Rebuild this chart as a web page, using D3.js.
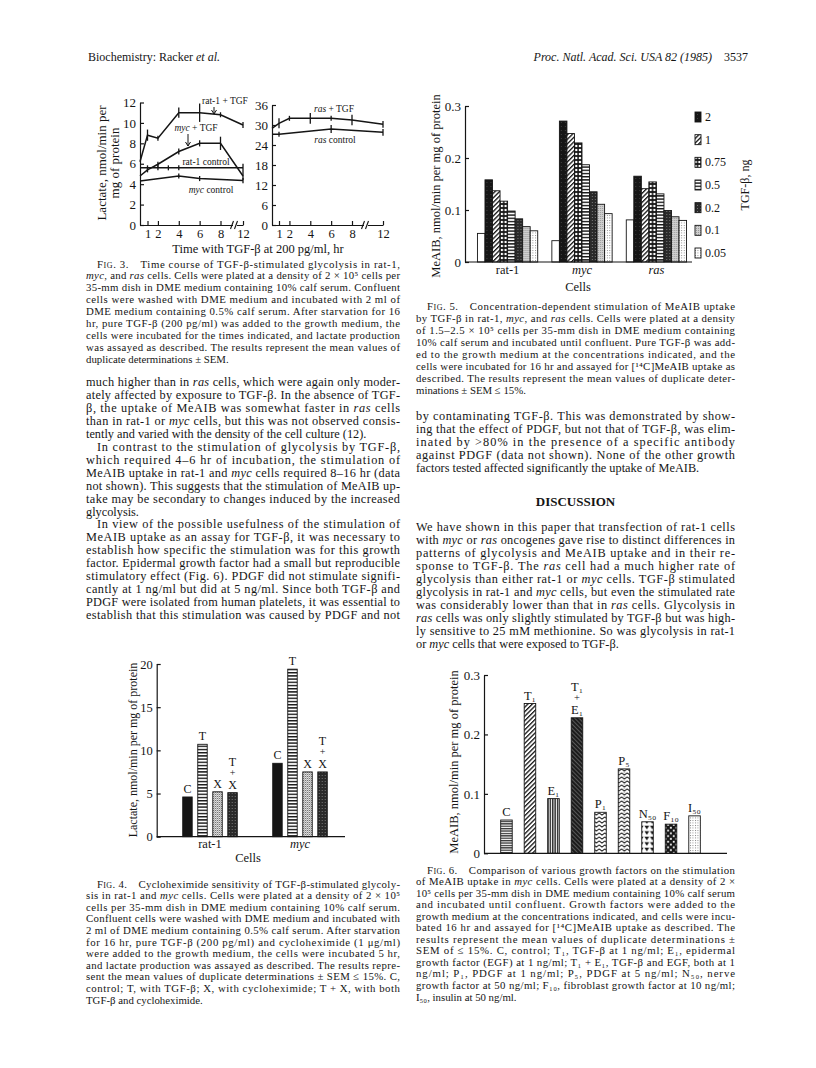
<!DOCTYPE html>
<html>
<head>
<meta charset="utf-8">
<script src="https://cdn.jsdelivr.net/npm/d3@7"></script>
<style>
  body { margin: 0; background: #fff; }
  svg { display: block; }
  text { font-family: "Liberation Serif", "Times New Roman", serif; fill: #151515; }
</style>
</head>
<body>
<div id="page"></div>
<script>
// ---- Fig. 3 data (lactate, nmol/min per mg protein, vs hours with TGF-beta) ----
var rat1TgfT = [0, 1, 2, 4, 6, 8, 12];
var rat1TgfV = [6.2, 8.8, 8.5, 11.0, 11.0, 10.8, 9.8];
var rat1TgfE = [0, 0.55, 0.15, 0.5, 0.9, 0.15, 0.3];
var mycTgfT = [0, 1, 2, 4, 6, 8, 12];
var mycTgfV = [4.8, 5.4, 5.95, 7.2, 8.0, 8.0, 4.8];
var mycTgfE = [0, 0.2, 0.2, 0.3, 0.3, 0.65, 0.4];
var rat1CtlT = [0, 1, 2, 3, 4, 12];
var rat1CtlV = [5.6, 5.6, 5.6, 5.6, 5.6, 5.6];
var rat1CtlE = [0, 0.15, 0.15, 0.15, 0.15, 0.4];
var mycCtlT = [0, 4, 6, 12];
var mycCtlV = [4.3, 4.8, 4.55, 4.35];
var mycCtlE = [0, 0.15, 0.25, 0.25];
var rasTgfT = [0, 1, 2, 4, 6, 8, 12];
var rasTgfV = [29.0, 30.5, 32.0, 32.0, 32.0, 31.5, 30.2];
var rasTgfE = [0, 1.5, 0.6, 1.6, 0.4, 1.6, 1.0];
var rasCtlT = [0, 1, 6, 12];
var rasCtlV = [27.2, 27.2, 28.8, 27.8];
var rasCtlE = [0, 0.4, 1.2, 1.0];
var hourTicks = [1, 2, 4, 6, 8, 12];
var lactTicksA = [0, 2, 4, 6, 8, 10, 12];
var lactTicksB = [0, 6, 12, 18, 24, 30, 36];

// ---- Fig. 4 data ----
var cells4 = ['rat-1', 'myc'];
var treat4 = ['C', 'T', 'X', 'T+X'];
var treatLabels = [['C'], ['T'], ['X'], ['T', '+', 'X']];
var rat1Lactate = [4.6, 10.7, 5.2, 5.1];
var mycLactate = [8.5, 19.4, 7.5, 7.5];
var lactTicks4 = [0, 5, 10, 15, 20];

// ---- Fig. 5 data (MeAIB uptake, nmol/min per mg protein) ----
var cells5 = ['rat-1', 'myc', 'ras'];
var doses5 = ['control', '2', '1', '0.75', '0.5', '0.2', '0.1', '0.05'];
var rat1Uptake = [0.055, 0.158, 0.137, 0.117, 0.098, 0.083, 0.068, 0.060];
var mycUptake = [0.041, 0.271, 0.247, 0.229, 0.187, 0.135, 0.111, 0.093];
var rasUptake = [0.081, 0.165, 0.141, 0.154, 0.131, 0.099, 0.087, 0.080];
var uptakeTicks = [0, 0.1, 0.2, 0.3];

// ---- Fig. 6 data ----
var factors6 = ['C', 'T1', 'E1', 'T1+E1', 'P1', 'P5', 'N50', 'F10', 'I50'];
var factorLabels = [['C'], ['T_{1}'], ['E_{1}'], ['T_{1}', '+', 'E_{1}'], ['P_{1}'], ['P_{5}'], ['N_{50}'], ['F_{10}'], ['I_{50}']];
var uptake6 = [0.056, 0.252, 0.092, 0.228, 0.069, 0.142, 0.053, 0.049, 0.063];

// ---- page text ----
var cap3 = [
  '>~Fig.~ 3.\u2003Time course of TGF-β-stimulated glycolysis in rat-1,',
  '*myc*, and *ras* cells. Cells were plated at a density of 2 × 10^{5} cells per',
  '35-mm dish in DME medium containing 10% calf serum. Confluent',
  'cells were washed with DME medium and incubated with 2 ml of',
  'DME medium containing 0.5% calf serum. After starvation for 16',
  'hr, pure TGF-β (200 pg/ml) was added to the growth medium, the',
  'cells were incubated for the times indicated, and lactate production',
  'was assayed as described. The results represent the mean values of',
  'duplicate determinations ± SEM.$'
];
var bodyL = [
  'much higher than in *ras* cells, which were again only moder-',
  'ately affected by exposure to TGF-β. In the absence of TGF-',
  'β, the uptake of MeAIB was somewhat faster in *ras* cells',
  'than in rat-1 or *myc* cells, but this was not observed consis-',
  'tently and varied with the density of the cell culture (12).$',
  '>In contrast to the stimulation of glycolysis by TGF-β,',
  'which required 4–6 hr of incubation, the stimulation of',
  'MeAIB uptake in rat-1 and *myc* cells required 8–16 hr (data',
  'not shown). This suggests that the stimulation of MeAIB up-',
  'take may be secondary to changes induced by the increased',
  'glycolysis.$',
  '>In view of the possible usefulness of the stimulation of',
  'MeAIB uptake as an assay for TGF-β, it was necessary to',
  'establish how specific the stimulation was for this growth',
  'factor. Epidermal growth factor had a small but reproducible',
  'stimulatory effect (Fig. 6). PDGF did not stimulate signifi-',
  'cantly at 1 ng/ml but did at 5 ng/ml. Since both TGF-β and',
  'PDGF were isolated from human platelets, it was essential to',
  'establish that this stimulation was caused by PDGF and not'
];
var cap4 = [
  '>~Fig.~ 4.\u2003Cycloheximide sensitivity of TGF-β-stimulated glycoly-',
  'sis in rat-1 and *myc* cells. Cells were plated at a density of 2 × 10^{5}',
  'cells per 35-mm dish in DME medium containing 10% calf serum.',
  'Confluent cells were washed with DME medium and incubated with',
  '2 ml of DME medium containing 0.5% calf serum. After starvation',
  'for 16 hr, pure TGF-β (200 pg/ml) and cycloheximide (1 μg/ml)',
  'were added to the growth medium, the cells were incubated 5 hr,',
  'and lactate production was assayed as described. The results repre-',
  'sent the mean values of duplicate determinations ± SEM ≤ 15%. C,',
  'control; T, with TGF-β; X, with cycloheximide; T + X, with both',
  'TGF-β and cycloheximide.$'
];
var cap5 = [
  '>~Fig.~ 5.\u2003Concentration-dependent stimulation of MeAIB uptake',
  'by TGF-β in rat-1, *myc*, and *ras* cells. Cells were plated at a density',
  'of 1.5–2.5 × 10^{5} cells per 35-mm dish in DME medium containing',
  '10% calf serum and incubated until confluent. Pure TGF-β was add-',
  'ed to the growth medium at the concentrations indicated, and the',
  'cells were incubated for 16 hr and assayed for [^{14}C]MeAIB uptake as',
  'described. The results represent the mean values of duplicate deter-',
  'minations ± SEM ≤ 15%.$'
];
var bodyR = [
  'by contaminating TGF-β. This was demonstrated by show-',
  'ing that the effect of PDGF, but not that of TGF-β, was elim-',
  'inated by >80% in the presence of a specific antibody',
  'against PDGF (data not shown). None of the other growth',
  'factors tested affected significantly the uptake of MeAIB.$'
];
var discussion = [
  'We have shown in this paper that transfection of rat-1 cells',
  'with *myc* or *ras* oncogenes gave rise to distinct differences in',
  'patterns of glycolysis and MeAIB uptake and in their re-',
  'sponse to TGF-β. The *ras* cell had a much higher rate of',
  'glycolysis than either rat-1 or *myc* cells. TGF-β stimulated',
  'glycolysis in rat-1 and *myc* cells, but even the stimulated rate',
  'was considerably lower than that in *ras* cells. Glycolysis in',
  '*ras* cells was only slightly stimulated by TGF-β but was high-',
  'ly sensitive to 25 mM methionine. So was glycolysis in rat-1',
  'or *myc* cells that were exposed to TGF-β.$'
];
var cap6 = [
  '>~Fig.~ 6.\u2003Comparison of various growth factors on the stimulation',
  'of MeAIB uptake in *myc* cells. Cells were plated at a density of 2 ×',
  '10^{5} cells per 35-mm dish in DME medium containing 10% calf serum',
  'and incubated until confluent. Growth factors were added to the',
  'growth medium at the concentrations indicated, and cells were incu-',
  'bated 16 hr and assayed for [^{14}C]MeAIB uptake as described. The',
  'results represent the mean values of duplicate determinations ±',
  'SEM of ≤ 15%. C, control; T_{1}, TGF-β at 1 ng/ml; E_{1}, epidermal',
  'growth factor (EGF) at 1 ng/ml; T_{1} + E_{1}, TGF-β and EGF, both at 1',
  'ng/ml; P_{1}, PDGF at 1 ng/ml; P_{5}, PDGF at 5 ng/ml; N_{50}, nerve',
  'growth factor at 50 ng/ml; F_{10}, fibroblast growth factor at 10 ng/ml;',
  'I_{50}, insulin at 50 ng/ml.$'
];

var ink = '#151515';
var colL = [86, 400], colR = [416, 735];
var supDigits = '⁰¹²³⁴⁵⁶⁷⁸⁹', subDigits = '₀₁₂₃₄₅₆₇₈₉';

var svg = d3.select('#page').append('svg')
  .attr('width', 816)
  .attr('height', 1068);

// append runs with *italic*, ^{sup}, _{sub}, ~smallcaps~ to a text element
function runs(el, s) {
  var re = /\*([^*]+)\*|\^\{([^}]*)\}|_\{([^}]*)\}|~([^~]+)~|([^*^_~]+)/g, m;
  while ((m = re.exec(s))) {
    var sp = el.append('tspan');
    if (m[2] || m[3]) {
      var map = m[2] ? supDigits : subDigits;
      sp.text((m[2] || m[3]).replace(/\d/g, function(c) { return map[+c]; }));
    }
    else if (m[1]) sp.text(m[1]).style('font-style', 'italic');
    else if (m[4]) sp.text(m[4]).style('font-variant', 'small-caps');
    else sp.text(m[5]);
  }
}

function rich(parent, s, x, y, size, anchor) {
  var t = parent.append('text')
    .attr('x', x)
    .attr('y', y)
    .style('font-size', size + 'px');
  if (anchor) t.attr('text-anchor', anchor);
  runs(t, s);
  return t;
}

// stacked label (bottom line sits at yBottom)
function stack(parts, cx, yBottom, size, gap) {
  parts.forEach(function(p, k) {
    var isPlus = p === '+';
    rich(svg, p, cx, yBottom - (parts.length - 1 - k) * gap - (isPlus ? 1 : 0), isPlus ? size - 2 : size, 'middle');
  });
}

// justified paragraph block; '>' = indented line, '$' = ragged last line
function block(lines, col, y0, lh, size) {
  lines.forEach(function(s, i) {
    var indent = 0, justify = true;
    if (s[0] === '>') { indent = 11; s = s.slice(1); }
    if (s.slice(-1) === '$') { justify = false; s = s.slice(0, -1); }
    var t = rich(svg, s, col[0] + indent, y0 + i * lh, size);
    if (justify) t.attr('textLength', col[1] - col[0] - indent).attr('lengthAdjust', 'spacing');
  });
}

// ---- header ----
rich(svg, 'Biochemistry: Racker *et al.*', 88, 61, 12);
rich(svg, '*Proc. Natl. Acad. Sci. USA 82 (1985)*', 712, 61, 12, 'end');
rich(svg, '3537', 748, 61, 12, 'end');

// ---- text blocks ----
block(cap3, colL, 267.5, 11.9, 10.8);
block(bodyL, colL, 386, 12.95, 12.3);
block(cap4, colL, 887.5, 11.6, 10.8);
block(cap5, colR, 309.5, 12, 10.8);
block(bodyR, colR, 420, 13, 12.3);
svg.append('text')
  .attr('x', (colR[0] + colR[1]) / 2)
  .attr('y', 506)
  .attr('text-anchor', 'middle')
  .style('font-size', '13px')
  .style('font-weight', 'bold')
  .text('DISCUSSION');
block(discussion, colR, 531, 13, 12.3);
block(cap6, colR, 873.5, 11.55, 10.8);

// ---- fill patterns ----
var defs = svg.append('defs');
function pat(id, w, h, bg, draw, rot) {
  var p = defs.append('pattern')
    .attr('id', id)
    .attr('patternUnits', 'userSpaceOnUse')
    .attr('width', w)
    .attr('height', h);
  if (rot) p.attr('patternTransform', 'rotate(' + rot + ')');
  p.append('rect').attr('width', w).attr('height', h).attr('fill', bg);
  draw(p);
}
pat('pBlack', 4, 4, '#161616', function(p) {
  p.append('rect').attr('x', 1).attr('y', 2).attr('width', 0.8).attr('height', 0.8).attr('fill', '#555');
});
pat('pHatch', 3.2, 3.2, '#fff', function(p) {
  p.append('rect').attr('width', 1.3).attr('height', 3.2).attr('fill', ink);
}, 45);
pat('pBrick', 3.75, 4, ink, function(p) {
  p.append('rect').attr('x', 0.8).attr('y', 0.9).attr('width', 2.2).attr('height', 2.2).attr('fill', '#fff');
});
pat('pStripe', 4, 3.2, '#fff', function(p) {
  p.append('rect').attr('y', 0).attr('width', 4).attr('height', 1.4).attr('fill', ink);
});
pat('pStripe2', 4, 2.4, '#fff', function(p) {
  p.append('rect').attr('y', 0).attr('width', 4).attr('height', 1.3).attr('fill', '#333');
});
pat('pVstripe', 2.4, 4, '#fff', function(p) {
  p.append('rect').attr('width', 1.5).attr('height', 4).attr('fill', '#333');
});
pat('pDark', 3, 3, '#2a2a2a', function(p) {
  p.append('rect').attr('x', 1).attr('y', 1).attr('width', 1).attr('height', 1).attr('fill', '#777');
});
pat('pDarkHatch', 3, 3, '#1c1c1c', function(p) {
  p.append('rect').attr('width', 0.8).attr('height', 3).attr('fill', '#666');
}, -45);
pat('pGray', 2, 2, '#cfcfcf', function(p) {
  p.append('rect').attr('width', 1).attr('height', 1).attr('fill', '#999');
});
pat('pDots', 2.5, 2.5, '#fff', function(p) {
  p.append('rect').attr('width', 0.9).attr('height', 0.9).attr('fill', '#777');
});
pat('pStipple', 2, 2, '#fff', function(p) {
  p.append('rect').attr('width', 1).attr('height', 1).attr('fill', '#444');
  p.append('rect').attr('x', 1).attr('y', 1).attr('width', 1).attr('height', 1).attr('fill', '#999');
});
pat('pChevron', 5.6, 4, '#fff', function(p) {
  p.append('path').attr('d', 'M0,0.8 L2.8,3.2 L5.6,0.8').attr('fill', 'none').attr('stroke', ink).attr('stroke-width', 1);
});
pat('pChevron2', 5.6, 4, '#fff', function(p) {
  p.append('path').attr('d', 'M0,0.8 L2.8,3.2 L5.6,0.8').attr('fill', 'none').attr('stroke', ink).attr('stroke-width', 1);
  p.append('rect').attr('x', 2.4).attr('y', 0.3).attr('width', 0.8).attr('height', 0.8).attr('fill', '#555');
});
pat('pTri', 5.6, 5.5, '#fff', function(p) {
  p.append('path').attr('d', 'M0.4,0.6 L5.2,0.6 L2.8,4.4 Z').attr('fill', ink);
});
pat('pSquares', 5.6, 5.6, ink, function(p) {
  p.append('rect').attr('x', 0.8).attr('y', 0.8).attr('width', 1.8).attr('height', 1.8).attr('fill', '#fff');
  p.append('rect').attr('x', 3.6).attr('y', 3.6).attr('width', 1.8).attr('height', 1.8).attr('fill', '#fff');
});

function styleAxis(g, size) {
  g.selectAll('path, line').attr('stroke', ink).attr('stroke-width', 1.2);
  g.selectAll('text').style('font-size', size + 'px').attr('fill', ink);
}

// ---- Fig. 3 ----
var x3a = d3.scaleLinear().domain([0, 1, 8, 12]).range([140, 147.5, 220.5, 243]);
var y3a = d3.scaleLinear().domain([0, 12]).range([225, 102.5]);
var x3b = d3.scaleLinear().domain([0, 1, 8, 12]).range([272, 279, 352, 383]);
var y3b = d3.scaleLinear().domain([0, 36]).range([225, 105]);

function panel3(x, y, yTicks, series, brk) {
  var g = svg.append('g');
  g.append('g')
    .attr('transform', 'translate(0,' + y.range()[0] + ')')
    .call(d3.axisBottom(x).tickValues(hourTicks).tickSize(-4).tickSizeOuter(0).tickPadding(4))
    .call(styleAxis, 12.5);
  g.append('g')
    .attr('transform', 'translate(' + x.range()[0] + ',0)')
    .call(d3.axisLeft(y).tickValues(yTicks).tickSize(-4).tickSizeOuter(0).tickPadding(4))
    .call(styleAxis, 13);
  // axis break
  var y0 = y.range()[0];
  g.append('rect').attr('x', brk - 2).attr('y', y0 - 2).attr('width', 4).attr('height', 4).attr('fill', '#fff');
  [-3, 1].forEach(function(dx) {
    g.append('line')
      .attr('x1', brk + dx - 1.5).attr('y1', y0 + 4)
      .attr('x2', brk + dx + 1.5).attr('y2', y0 - 4)
      .attr('stroke', ink).attr('stroke-width', 1.1);
  });
  series.forEach(function(s) {
    var pts = s[0].map(function(t, i) { return { t: t, v: s[1][i], e: s[2][i] }; });
    g.append('path')
      .datum(pts)
      .attr('d', d3.line().x(function(d) { return x(d.t); }).y(function(d) { return y(d.v); }))
      .attr('fill', 'none')
      .attr('stroke', ink)
      .attr('stroke-width', 1.5);
    g.selectAll(null)
      .data(pts.filter(function(d) { return d.t > 0; }))
      .enter().append('line')
      .attr('x1', function(d) { return x(d.t); })
      .attr('x2', function(d) { return x(d.t); })
      .attr('y1', function(d) { return Math.min(y(d.v + d.e), y(d.v) - 2.5); })
      .attr('y2', function(d) { return Math.max(y(d.v - d.e), y(d.v) + 2.5); })
      .attr('stroke', ink)
      .attr('stroke-width', 1.3);
  });
  return g;
}

panel3(x3a, y3a, lactTicksA, [
  [rat1TgfT, rat1TgfV, rat1TgfE],
  [mycTgfT, mycTgfV, mycTgfE],
  [rat1CtlT, rat1CtlV, rat1CtlE],
  [mycCtlT, mycCtlV, mycCtlE]
], 235);
panel3(x3b, y3b, lactTicksB, [
  [rasTgfT, rasTgfV, rasTgfE],
  [rasCtlT, rasCtlV, rasCtlE]
], 366);

// series labels
rich(svg, 'rat-1 + TGF', 225, 104, 9.5, 'middle');
rich(svg, '*myc* + TGF', 196, 131, 9.5, 'middle');
rich(svg, 'rat-1 control', 206, 165, 9.5, 'middle');
rich(svg, '*myc* control', 211, 193, 9.5, 'middle');
rich(svg, '*ras* + TGF', 334, 112, 9.5, 'middle');
rich(svg, '*ras* control', 335, 143, 9.5, 'middle');
function arrow(xa, ya, yb) {
  svg.append('line').attr('x1', xa).attr('x2', xa).attr('y1', ya).attr('y2', yb)
    .attr('stroke', ink).attr('stroke-width', 1);
  svg.append('path')
    .attr('d', 'M' + (xa - 2.5) + ',' + (yb - 4) + ' L' + xa + ',' + yb + ' L' + (xa + 2.5) + ',' + (yb - 4))
    .attr('fill', 'none').attr('stroke', ink).attr('stroke-width', 1);
}
arrow(214, 107, 114);
arrow(188, 134, 146);

svg.append('text')
  .attr('transform', 'translate(106,163) rotate(-90)')
  .attr('text-anchor', 'middle')
  .style('font-size', '13px')
  .text('Lactate, nmol/min per');
svg.append('text')
  .attr('transform', 'translate(119,163) rotate(-90)')
  .attr('text-anchor', 'middle')
  .style('font-size', '13px')
  .text('mg of protein');
svg.append('text')
  .attr('x', 258).attr('y', 252.5)
  .attr('text-anchor', 'middle')
  .style('font-size', '12.5px')
  .text('Time with TGF-β at 200 pg/ml, hr');

// ---- Fig. 5 ----
var fill5 = ['#fff', 'url(#pBlack)', 'url(#pHatch)', 'url(#pBrick)', 'url(#pStripe)', 'url(#pDark)', 'url(#pGray)', 'url(#pDots)'];
var y5 = d3.scaleLinear().domain([0, 0.3]).range([262, 106]);
var x5 = d3.scaleBand().domain(cells5).range([470, 694]).paddingInner(0.19).paddingOuter(0.1);
var x5in = d3.scaleBand().domain(doses5).range([0, x5.bandwidth()]);
var data5 = [rat1Uptake, mycUptake, rasUptake];

var g5 = svg.append('g');
cells5.forEach(function(c, ci) {
  g5.append('g')
    .attr('transform', 'translate(' + x5(c) + ',0)')
    .selectAll('rect')
    .data(data5[ci])
    .enter().append('rect')
    .attr('x', function(d, i) { return x5in(doses5[i]); })
    .attr('y', function(d) { return y5(d); })
    .attr('width', x5in.bandwidth())
    .attr('height', function(d) { return y5(0) - y5(d); })
    .attr('fill', function(d, i) { return fill5[i]; })
    .attr('stroke', ink)
    .attr('stroke-width', 0.9);
});
g5.append('line').attr('x1', 465).attr('x2', 692).attr('y1', 262).attr('y2', 262)
  .attr('stroke', ink).attr('stroke-width', 1.2);
g5.append('g')
  .attr('transform', 'translate(465,0)')
  .call(d3.axisLeft(y5).tickValues(uptakeTicks).tickFormat(d3.format('~g')).tickSize(-4).tickSizeOuter(0).tickPadding(4))
  .call(styleAxis, 13);
cells5.forEach(function(c, ci) {
  rich(svg, ci === 0 ? c : '*' + c + '*', x5(c) + x5.bandwidth() / 2, 274, 12.5, 'middle');
});
svg.append('text').attr('x', 578).attr('y', 291).attr('text-anchor', 'middle')
  .style('font-size', '12.5px').text('Cells');
svg.append('text')
  .attr('transform', 'translate(440,186) rotate(-90)')
  .attr('text-anchor', 'middle')
  .style('font-size', '12.5px')
  .text('MeAIB, nmol/min per mg of protein');
// legend
var legendY = d3.scalePoint().domain(doses5.slice(1)).range([117, 253]);
doses5.slice(1).forEach(function(d, i) {
  svg.append('rect')
    .attr('x', 695).attr('y', legendY(d) - 5)
    .attr('width', 6).attr('height', 10)
    .attr('fill', fill5[i + 1]).attr('stroke', ink).attr('stroke-width', 0.9);
  svg.append('text').attr('x', 705).attr('y', legendY(d) + 4)
    .style('font-size', '12px').text(d);
});
svg.append('text')
  .attr('transform', 'translate(749,185) rotate(-90)')
  .attr('text-anchor', 'middle')
  .style('font-size', '12px')
  .text('TGF-β, ng');

// ---- Fig. 4 ----
var fill4 = [ink, 'url(#pStripe)', 'url(#pStipple)', 'url(#pDark)'];
var y4 = d3.scaleLinear().domain([0, 20]).range([836.7, 664]);
var x4 = d3.scaleBand().domain(cells4).range([165, 345]).paddingInner(0.394).paddingOuter(0.197);
var x4in = d3.scaleBand().domain(treat4).range([0, x4.bandwidth()]).paddingInner(0.37);
var data4 = [rat1Lactate, mycLactate];
var g4 = svg.append('g');
cells4.forEach(function(c, ci) {
  var gg = g4.append('g').attr('transform', 'translate(' + x4(c) + ',0)');
  gg.selectAll('rect')
    .data(data4[ci])
    .enter().append('rect')
    .attr('x', function(d, i) { return x4in(treat4[i]); })
    .attr('y', function(d) { return y4(d); })
    .attr('width', x4in.bandwidth())
    .attr('height', function(d) { return y4(0) - y4(d); })
    .attr('fill', function(d, i) { return fill4[i]; })
    .attr('stroke', ink)
    .attr('stroke-width', 0.9);
  data4[ci].forEach(function(v, i) {
    var cx = x4(c) + x4in(treat4[i]) + x4in.bandwidth() / 2;
    stack(treatLabels[i], cx, y4(v) - 4, 12, 11.5);
  });
});
g4.append('line').attr('x1', 156.7).attr('x2', 345).attr('y1', 836.7).attr('y2', 836.7)
  .attr('stroke', ink).attr('stroke-width', 1.2);
g4.append('g')
  .attr('transform', 'translate(156.7,0)')
  .call(d3.axisLeft(y4).tickValues(lactTicks4).tickSize(-4).tickSizeOuter(0).tickPadding(4))
  .call(styleAxis, 12.5);
cells4.forEach(function(c, ci) {
  rich(svg, ci === 0 ? c : '*' + c + '*', x4(c) + x4.bandwidth() / 2, 848, 12.5, 'middle');
});
svg.append('text').attr('x', 248).attr('y', 862).attr('text-anchor', 'middle')
  .style('font-size', '12.5px').text('Cells');
svg.append('text')
  .attr('transform', 'translate(137,750) rotate(-90)')
  .attr('text-anchor', 'middle')
  .style('font-size', '12px')
  .text('Lactate, nmol/min per mg of protein');

// ---- Fig. 6 ----
var fill6 = ['url(#pStripe2)', 'url(#pHatch)', 'url(#pVstripe)', 'url(#pDarkHatch)', 'url(#pChevron)', 'url(#pChevron2)', 'url(#pTri)', 'url(#pSquares)', 'url(#pDots)'];
var y6 = d3.scaleLinear().domain([0, 0.3]).range([853.3, 675]);
var x6 = d3.scaleBand().domain(factors6).range([484, 717]).paddingInner(0.51).paddingOuter(0.71);
var g6 = svg.append('g');
g6.selectAll('rect')
  .data(uptake6)
  .enter().append('rect')
  .attr('x', function(d, i) { return x6(factors6[i]); })
  .attr('y', function(d) { return y6(d); })
  .attr('width', x6.bandwidth())
  .attr('height', function(d) { return y6(0) - y6(d); })
  .attr('fill', function(d, i) { return fill6[i]; })
  .attr('stroke', ink)
  .attr('stroke-width', 0.9);
uptake6.forEach(function(v, i) {
  var cx = x6(factors6[i]) + x6.bandwidth() / 2;
  stack(factorLabels[i], cx, y6(v) - 4, 12.5, 11.5);
});
g6.append('line').attr('x1', 484).attr('x2', 727).attr('y1', 853.3).attr('y2', 853.3)
  .attr('stroke', ink).attr('stroke-width', 1.2);
g6.append('g')
  .attr('transform', 'translate(484,0)')
  .call(d3.axisLeft(y6).tickValues(uptakeTicks).tickFormat(d3.format('~g')).tickSize(-4).tickSizeOuter(0).tickPadding(4))
  .call(styleAxis, 13);
svg.append('text')
  .attr('transform', 'translate(458,762) rotate(-90)')
  .attr('text-anchor', 'middle')
  .style('font-size', '12.5px')
  .text('MeAIB, nmol/min per mg of protein');
</script>
</body>
</html>
